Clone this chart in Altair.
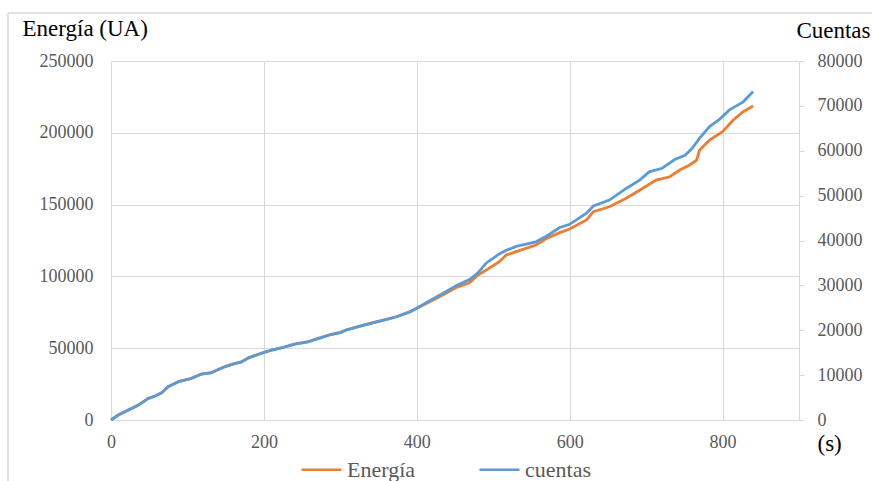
import altair as alt
import pandas as pd

# ---- data ----
t_energia = [0, 9.5, 22.6, 35.7, 48.8, 57.5, 66.2, 74.9, 88, 105, 118, 131, 145, 158, 171, 180,
             200, 210, 223, 240, 258, 271, 288, 300, 308, 330, 352, 373, 391, 400, 417, 434,
             452, 469, 480, 491, 508, 517, 530, 556, 570, 587, 600, 622, 631, 652, 674, 692,
             713, 731, 744, 757, 766, 770, 783, 800, 814, 827, 840]
energia = [0, 3500, 7000, 10400, 15100, 16700, 19000, 23200, 26700, 29000, 32000, 32900, 36400,
           38800, 40600, 43400, 47100, 48700, 50300, 52900, 54500, 56900, 59700, 61000, 62800,
           66100, 69100, 71900, 75400, 77800, 82400, 87000, 92400, 95600, 101000, 104500,
           110200, 114900, 117200, 121900, 126500, 130500, 133000, 139300, 145100, 148500,
           154400, 160200, 167100, 169400, 174100, 177600, 181000, 188000, 195000, 200800,
           208900, 214700, 218600]

t_cuentas = [0, 9.5, 22.6, 35.7, 48.8, 57.5, 66.2, 74.9, 88, 105, 118, 131, 145, 158, 171, 180,
             200, 210, 223, 240, 258, 271, 288, 300, 308, 330, 352, 373, 391, 400, 417, 434,
             452, 469, 480, 491, 508, 517, 530, 556, 570, 587, 600, 622, 631, 652, 674, 692,
             704, 721, 738, 751, 760, 770, 783, 796, 809, 827, 840]
cuentas = [0, 1100, 2200, 3300, 4800, 5300, 6050, 7400, 8500, 9250, 10200, 10500, 11600, 12400,
           12950, 13850, 15050, 15550, 16050, 16900, 17400, 18150, 19050, 19450, 20050, 21100,
           22050, 22950, 24100, 24900, 26600, 28200, 30000, 31300, 32800, 35000, 37000, 37800,
           38700, 39700, 41000, 42900, 43600, 46100, 47700, 49000, 51600, 53500, 55300, 56100,
           58100, 59000, 60500, 62800, 65400, 67000, 69100, 70900, 73200]

series_names = ["Energía", "cuentas"]
series_colors = ["#ED7D31", "#5B9BD5"]
x_ticks = [0, 200, 400, 600, 800]
left_ticks = [0, 50000, 100000, 150000, 200000, 250000]
right_ticks = [0, 10000, 20000, 30000, 40000, 50000, 60000, 70000, 80000]

df_e = pd.DataFrame({"t": t_energia, "v": energia, "serie": series_names[0]})
df_c = pd.DataFrame({"t": t_cuentas, "v": cuentas, "serie": series_names[1]})

FONT = "Times New Roman, Liberation Serif, DejaVu Serif, serif"
GRID = "#D9D9D9"
LBL = "#595959"
LSIZE = 18

color = alt.Color(
    "serie:N",
    scale=alt.Scale(domain=series_names, range=series_colors),
    legend=alt.Legend(
        title=None, orient="none", direction="horizontal",
        legendX=189, legendY=387,
        symbolType="stroke", symbolSize=1600, symbolStrokeWidth=2.5,
        labelFont=FONT, labelFontSize=22, labelColor=LBL, labelOffset=4,
        columnPadding=58,
    ),
)

x = alt.X(
    "t:Q",
    scale=alt.Scale(domain=[0, 900], nice=False, zero=True),
    axis=alt.Axis(
        values=x_ticks, title="(s)", grid=True, gridColor=GRID, domainColor=GRID,
        ticks=False, labelFont=FONT, labelFontSize=LSIZE, labelColor=LBL, labelPadding=13,
        labelFlush=False,
        titleFont=FONT, titleFontSize=23, titleFontWeight="normal", titleColor="black",
        titleAngle=0, titleAlign="left", titleBaseline="middle", titleX=706, titleY=23,
        format="d",
    ),
)

left = alt.Chart(df_e).mark_line(strokeWidth=2.8).encode(
    x=x,
    y=alt.Y(
        "v:Q",
        scale=alt.Scale(domain=[0, 250000], nice=False),
        axis=alt.Axis(
            values=left_ticks, title="Energía (UA)", grid=True, gridColor=GRID,
            domain=False, ticks=False, labelFont=FONT, labelFontSize=LSIZE, labelColor=LBL,
            labelPadding=18, format="d",
            titleFont=FONT, titleFontSize=23, titleFontWeight="normal", titleColor="black",
            titleAngle=0, titleAlign="left", titleBaseline="alphabetic",
            titleX=-89, titleY=-26,
        ),
    ),
    color=color,
)

right = alt.Chart(df_c).mark_line(strokeWidth=2.8).encode(
    x=x,
    y=alt.Y(
        "v:Q",
        scale=alt.Scale(domain=[0, 80000], nice=False),
        axis=alt.Axis(
            orient="right", values=right_ticks, title="Cuentas", grid=False,
            domain=True, domainColor=GRID, ticks=True, tickColor=GRID, tickSize=5,
            labelFont=FONT, labelFontSize=LSIZE, labelColor=LBL, labelPadding=13, format="d",
            titleFont=FONT, titleFontSize=23, titleFontWeight="normal", titleColor="black",
            titleAngle=0, titleAlign="right", titleBaseline="alphabetic",
            titleX=71, titleY=-24,
        ),
    ),
    color=color,
)

border_top = alt.Chart(df_e.head(1)).mark_rule(color=GRID, strokeWidth=1.5, clip=False).encode(
    x=alt.value(-103), x2=alt.value(775), y=alt.value(-48)
)
border_left = alt.Chart(df_e.head(1)).mark_rule(color=GRID, strokeWidth=1.5, clip=False).encode(
    x=alt.value(-103), y=alt.value(-48), y2=alt.value(430)
)

chart = (
    alt.layer(left, right, border_top, border_left)
    .resolve_scale(y="independent")
    .properties(
        width=688, height=359,
        autosize=alt.AutoSizeParams(type="none"),
        padding={"left": 111, "top": 61, "right": 73, "bottom": 61},
        background="white",
    )
    .configure_view(stroke=None)
)

chart.save("out.html", embed_options={"renderer": "svg", "actions": False})
